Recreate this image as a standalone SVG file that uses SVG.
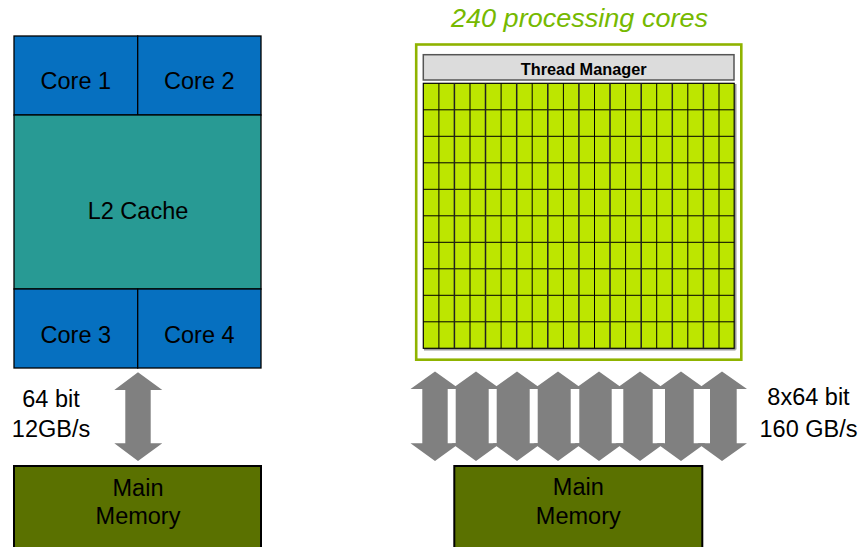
<svg xmlns="http://www.w3.org/2000/svg" width="863" height="547" viewBox="0 0 863 547">
<style>
.t{font-family:"Liberation Sans",Arial,sans-serif;font-size:23.5px;fill:#000;text-anchor:middle}
.core{fill:#0670c0;stroke:#000;stroke-width:1.3}
.l2{fill:#289a94;stroke:#000;stroke-width:1.3}
.mem{fill:#5a7100;stroke:#000;stroke-width:2}
.arr{fill:#808080;stroke:none}
.gl{stroke:#000;stroke-width:1}
.gt{stroke:#222;stroke-width:1.5}
</style>
<rect width="863" height="547" fill="#fff"/>
<g id="cpu">
  <g id="core1"><rect class="core" x="14" y="36" width="123.7" height="79"/><text class="t" x="75.8" y="89">Core 1</text></g>
  <g id="core2"><rect class="core" x="137.7" y="36" width="123.3" height="79"/><text class="t" x="199.3" y="89">Core 2</text></g>
  <g id="l2cache"><rect class="l2" x="14" y="115" width="247" height="174"/><text class="t" x="138" y="219">L2 Cache</text></g>
  <g id="core3"><rect class="core" x="14" y="289" width="123.7" height="79"/><text class="t" x="75.8" y="343">Core 3</text></g>
  <g id="core4"><rect class="core" x="137.7" y="289" width="123.3" height="79"/><text class="t" x="199.3" y="343">Core 4</text></g>
</g>
<g id="cpu-memory"><rect class="mem" x="14" y="466" width="247" height="100"/><text class="t" x="138" y="496">Main</text><text class="t" x="138" y="524">Memory</text></g>
<g id="cpu-bw-label"><text class="t" x="51" y="407">64 bit</text><text class="t" x="51" y="437">12GB/s</text></g>
<g id="gpu">
  <text x="579.5" y="27" font-family="'Liberation Sans',Arial,sans-serif" font-size="25" font-style="italic" fill="#76b900" text-anchor="middle" textLength="257" lengthAdjust="spacingAndGlyphs">240 processing cores</text>
  <rect x="416.2" y="44.5" width="325.1" height="315.2" fill="#fff" stroke="#8fb300" stroke-width="2.6"/>
  <g id="thread-manager"><rect x="423.3" y="54.7" width="310.7" height="25.3" fill="#dcdcdc" stroke="#555" stroke-width="1.5"/><text x="583.7" y="74.5" font-family="'Liberation Sans',Arial,sans-serif" font-size="16.3" font-weight="bold" text-anchor="middle">Thread Manager</text></g>
  <g id="core-grid">
    <line x1="424" y1="349.5" x2="735.5" y2="349.5" stroke="#999" stroke-width="2"/>
    <line x1="735.5" y1="84" x2="735.5" y2="349.5" stroke="#999" stroke-width="2"/>
    <rect x="423.3" y="83.3" width="310.9" height="265" fill="#bde600" stroke="#000" stroke-width="1.2"/>
    <path class="gl" d="M423.3 109.8H734.2M423.3 136.3H734.2M423.3 162.8H734.2M423.3 189.3H734.2M423.3 215.8H734.2M423.3 242.3H734.2M423.3 268.8H734.2M423.3 295.3H734.2M423.3 321.8H734.2"/>
    <path class="gl" d="M438.9 83.3V348.3M470 83.3V348.3M501.1 83.3V348.3M532.2 83.3V348.3M563.4 83.3V348.3M594.5 83.3V348.3M625.6 83.3V348.3M656.7 83.3V348.3M687.8 83.3V348.3M719 83.3V348.3"/>
    <path class="gt" d="M454.4 83.3V348.3M485.5 83.3V348.3M516.7 83.3V348.3M547.8 83.3V348.3M578.9 83.3V348.3M610 83.3V348.3M641.2 83.3V348.3M672.3 83.3V348.3M703.4 83.3V348.3"/>
  </g>
</g>
<g id="gpu-memory"><rect class="mem" x="454.3" y="466" width="248" height="100"/><text class="t" x="578.3" y="495">Main</text><text class="t" x="578.3" y="523.5">Memory</text></g>
<g id="gpu-bw-label"><text class="t" x="808.5" y="405">8x64 bit</text><text class="t" x="808.5" y="437">160 GB/s</text></g>
<g id="connectors">
  <polygon class="arr" points="138,372.3 162.3,390 150.7,390 150.7,443.3 162.3,443.3 138,461 114.3,443.3 125.3,443.3 125.3,390 114.3,390"/>
  <polygon class="arr" points="435,371.5 459.5,389 447.7,389 447.7,443.3 459.5,443.3 435,461 410.5,443.3 422.3,443.3 422.3,389 410.5,389"/>
  <polygon class="arr" points="476,371.5 500.5,389 488.7,389 488.7,443.3 500.5,443.3 476,461 451.5,443.3 455.7,443.3 455.7,389 451.5,389"/>
  <polygon class="arr" points="517,371.5 541.5,389 529.7,389 529.7,443.3 541.5,443.3 517,461 492.5,443.3 496.7,443.3 496.7,389 492.5,389"/>
  <polygon class="arr" points="558,371.5 582.5,389 570.7,389 570.7,443.3 582.5,443.3 558,461 533.5,443.3 537.7,443.3 537.7,389 533.5,389"/>
  <polygon class="arr" points="599,371.5 623.5,389 611.7,389 611.7,443.3 623.5,443.3 599,461 574.5,443.3 579.3,443.3 579.3,389 574.5,389"/>
  <polygon class="arr" points="640,371.5 664.5,389 652.7,389 652.7,443.3 664.5,443.3 640,461 615.5,443.3 623.3,443.3 623.3,389 615.5,389"/>
  <polygon class="arr" points="681,371.5 705.5,389 693.7,389 693.7,443.3 705.5,443.3 681,461 656.5,443.3 665,443.3 665,389 656.5,389"/>
  <polygon class="arr" points="722,371.5 747,389 736.7,389 736.7,443.3 747,443.3 722,461 697.5,443.3 710,443.3 710,389 697.5,389"/>
</g>
</svg>
